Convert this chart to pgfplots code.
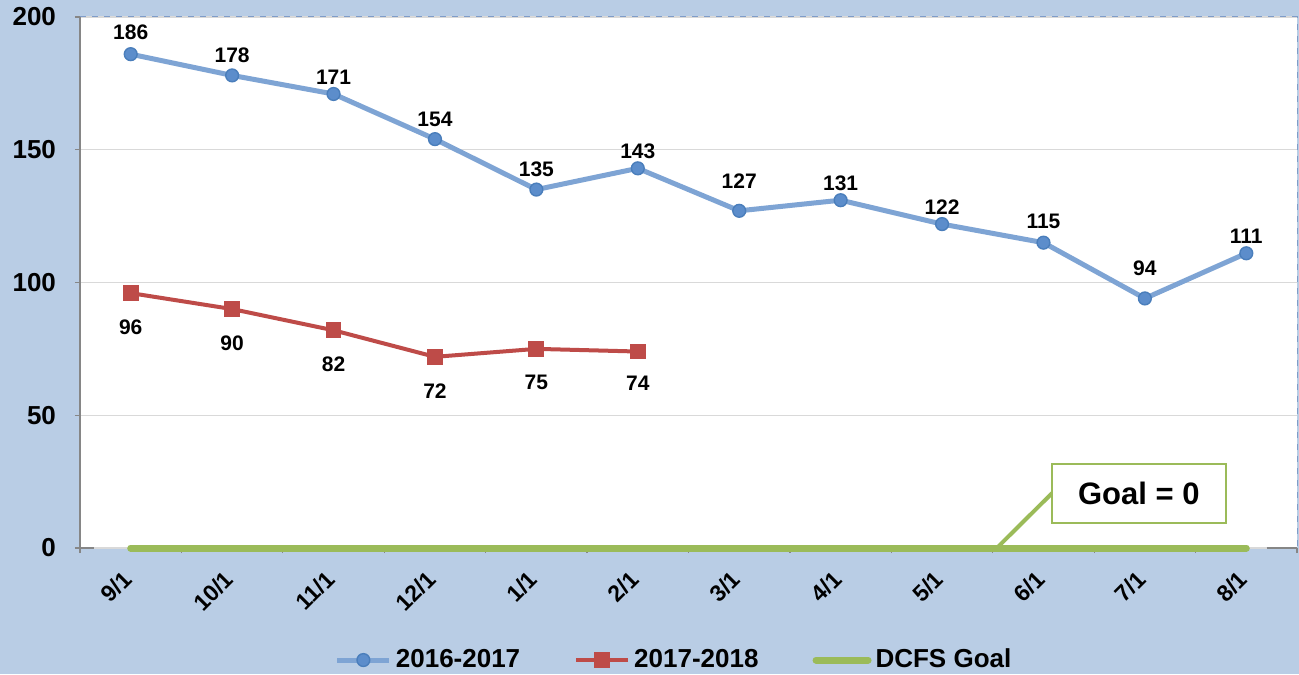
\documentclass[border=0pt]{standalone}
\usepackage{pgfplots}
\pgfplotsset{compat=1.18}
\usepackage{fontspec}
\setmainfont{Liberation Sans}
\definecolor{bg}{HTML}{B9CDE5}
\definecolor{bline}{HTML}{7EA4D4}
\definecolor{bmark}{HTML}{5C8DCB}
\definecolor{bedge}{HTML}{4A7EBB}
\definecolor{rline}{HTML}{BE4B48}
\definecolor{gline}{HTML}{9BBB59}
\definecolor{axgray}{HTML}{868686}
\definecolor{gridgray}{HTML}{D9D9D9}
\definecolor{topdash}{HTML}{7F9CC8}
\pgfplotstableread{
x y lab dy
0 186 186 11
1 178 178 10
2 171 171 8.5
3 154 154 10
4 135 135 10
5 143 143 8.5
6 127 127 15
7 131 131 8.5
8 122 122 8.5
9 115 115 10.5
10 94 94 15
11 111 111 8.5
}\blue
\pgfplotstableread{
x y lab dy
0 96 96 -17
1 90 90 -17
2 82 82 -17
3 72 72 -17
4 75 75 -17
5 74 74 -16
}\red
\begin{document}
\begin{tikzpicture}
\fill[bg] (-40pt,-63pt) rectangle (609.5pt,274pt);
\useasboundingbox (-40pt,-63pt) rectangle (609.5pt,274pt);
\begin{axis}[
  at={(0,0)}, anchor=south west,
  scale only axis, width=608.5pt, height=265.5pt,
  clip=false,
  axis background/.style={fill=white},
  axis line style={draw=none},
  xmin=-0.5, xmax=11.5, ymin=0, ymax=200,
  ytick={0,50,100,150,200},
  xtick={0,...,11},
  xticklabels={9/1,10/1,11/1,12/1,1/1,2/1,3/1,4/1,5/1,6/1,7/1,8/1},
  minor xtick={-0.5,0.5,...,11.5},
  xtick pos=bottom, ytick pos=left,
  ymajorgrids, grid style={gridgray, line width=0.6pt},
  tick align=outside,
  major tick length=2.5pt, minor tick length=2.5pt,
  major x tick style={draw=none},
  minor x tick style={axgray, line width=0.6pt},
  major y tick style={axgray, line width=0.6pt},
  /pgf/number format/assume math mode=true,
  yticklabel style={font=\bfseries\fontsize{13}{15}\selectfont, xshift=-6pt},
  xticklabel style={font=\bfseries\fontsize{11.5}{13}\selectfont, rotate=45, anchor=north east, xshift=-5.5pt, yshift=1pt},
  legend style={at={(0.489,-0.211)}, anchor=center, draw=none, fill=none,
    font=\bfseries\fontsize{13}{15}\selectfont, legend columns=3,
    /tikz/every even column/.append style={column sep=25pt}},
  legend image code/.code={\draw[mark repeat=2,mark phase=2] plot coordinates {(0pt,0pt) (13pt,0pt) (26pt,0pt)};},
]
\addplot[bline, line width=2.5pt, mark=*, mark size=3.2pt,
  mark options={fill=bmark, draw=bedge, line width=0.7pt},
  nodes near coords, point meta=explicit symbolic,
  visualization depends on={\thisrow{dy}\as\dy},
  every node near coord/.style={anchor=center, yshift=\dy pt, text=black, font=\bfseries\fontsize{10.5}{12}\selectfont}]
  table[x=x, y=y, meta=lab] {\blue};
\addlegendentry{2016-2017}
\addplot[rline, line width=2pt, mark=square*, mark size=3.7pt,
  mark options={fill=rline, draw=rline, line width=0.5pt},
  nodes near coords, point meta=explicit symbolic,
  visualization depends on={\thisrow{dy}\as\dy},
  every node near coord/.style={anchor=center, yshift=\dy pt, text=black, font=\bfseries\fontsize{10.5}{12}\selectfont}]
  table[x=x, y=y, meta=lab] {\red};
\addlegendentry{2017-2018}
\addplot[gline, line width=3.5pt, line cap=round] coordinates {(0,0) (11,0)};
\addlegendentry{DCFS Goal}
\draw[axgray, line width=0.8pt] (rel axis cs:0,0) -- (rel axis cs:0,1);
\draw[axgray, line width=0.8pt] (rel axis cs:0,0) -- (axis cs:-0.36,0);
\draw[axgray, line width=0.8pt] (axis cs:11.2,0) -- (rel axis cs:1,0);
\draw[topdash, dashed, line width=0.5pt] (rel axis cs:0,1) -- (rel axis cs:1,1) -- (rel axis cs:1,0);
\draw[gline, line width=2pt] (axis cs:8.54,0) -- (axis cs:9.086,20.7);
\node[draw=gline, line width=0.8pt, fill=white, minimum width=87pt, minimum height=29.5pt,
  font=\bfseries\fontsize{15.5}{18}\selectfont] at (axis cs:9.94,20.5) {Goal = 0};
\end{axis}
\end{tikzpicture}
\end{document}
